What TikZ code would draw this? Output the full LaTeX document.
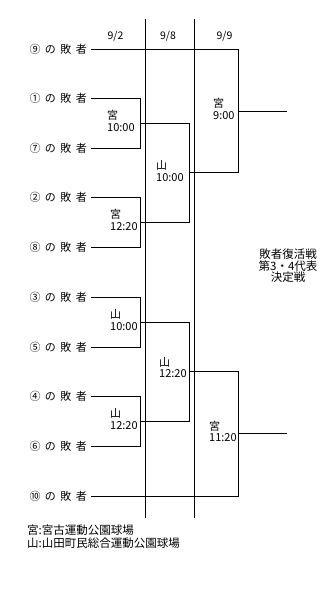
\documentclass[tikz,border=0pt]{standalone}
\usepackage{fontspec}
\setmainfont{Noto Sans CJK JP}
\newfontfamily\lblfont[LetterSpace=40]{Noto Sans CJK JP}
\begin{document}
\begin{tikzpicture}[x=1pt,y=-1pt,
  line/.style={line width=0.9pt,black},
  player/.style={anchor=east,inner sep=0pt,font=\lblfont\fontsize{11}{12}\selectfont},
  venue/.style={anchor=north west,inner sep=0pt,align=left,font=\fontsize{11}{11.5}\selectfont},
  datelbl/.style={inner sep=0pt,font=\fontsize{10.5}{12}\selectfont}]
\useasboundingbox (0,0) rectangle (332,595);
% dates
\node[datelbl] (d1) at (115.5,36) {9/2};
\node[datelbl] (d2) at (168,36) {9/8};
\node[datelbl] (d3) at (224.5,36) {9/9};
% separators
\coordinate (s1t) at (145.5,19); \coordinate (s1b) at (145.5,518);
\coordinate (s2t) at (194.5,19); \coordinate (s2b) at (194.5,518);
\draw[line] (s1t) -- (s1b);
\draw[line] (s2t) -- (s2b);
% players
\foreach \n/\t/\y in {p9/⑨/49.5,p1/①/98.5,p7/⑦/148,p2/②/197,p8/⑧/247,p3/③/297,p5/⑤/347,p4/④/396,p6/⑥/446,p10/⑩/496}{
  \node[player] (\n) at (87,\y) {\t の敗者};
  \coordinate (\n s) at (91,\y);
}
% round 1 junctions
\coordinate (a1) at (140,98.5);  \coordinate (a2) at (140,148);
\coordinate (b1) at (140,197);   \coordinate (b2) at (140,247);
\coordinate (c1) at (140,297);   \coordinate (c2) at (140,347);
\coordinate (e1) at (140,396);   \coordinate (e2) at (140,446);
\coordinate (am) at (140,123.25); \coordinate (bm) at (140,222);
\coordinate (cm) at (140,322);    \coordinate (em) at (140,421);
\draw[line] (p1s) -- (a1) -- (a2) -- (p7s);
\draw[line] (p2s) -- (b1) -- (b2) -- (p8s);
\draw[line] (p3s) -- (c1) -- (c2) -- (p5s);
\draw[line] (p4s) -- (e1) -- (e2) -- (p6s);
% round 2
\coordinate (f1) at (189.5,123.25); \coordinate (f2) at (189.5,222);
\coordinate (g1) at (189.5,322);    \coordinate (g2) at (189.5,421);
\coordinate (fm) at (189.5,172.5);  \coordinate (gm) at (189.5,371.5);
\draw[line] (am) -- (f1) -- (f2) -- (bm);
\draw[line] (cm) -- (g1) -- (g2) -- (em);
% round 3
\coordinate (h1) at (238.5,49.5);  \coordinate (h2) at (238.5,172.5);
\coordinate (k1) at (238.5,371.5); \coordinate (k2) at (238.5,496);
\coordinate (hm) at (238.5,111);   \coordinate (km) at (238.5,433.75);
\coordinate (ho) at (287,111);     \coordinate (ko) at (287,433.75);
\draw[line] (p9s) -- (h1) -- (h2) -- (fm);
\draw[line] (p10s) -- (k2) -- (k1) -- (gm);
\draw[line] (hm) -- (ho);
\draw[line] (km) -- (ko);
% venue labels
\node[venue] (v1) at (107,110.5) {宮\\10:00};
\node[venue] (v2) at (110,209.5) {宮\\12:20};
\node[venue] (v3) at (110,309.5) {山\\10:00};
\node[venue] (v4) at (110,408.5) {山\\12:20};
\node[venue] (v5) at (156,160.5) {山\\10:00};
\node[venue] (v6) at (159,357) {山\\12:20};
\node[venue] (v7) at (213,98.5) {宮\\9:00};
\node[venue] (v8) at (209,421) {宮\\11:20};
% title
\node[inner sep=0pt,align=center,font=\fontsize{11.5}{11.5}\selectfont] (ttl) at (288,266) {敗者復活戦\\第3・4代表\\決定戦};
% legend
\node[anchor=north west,inner sep=0pt,align=left,font=\fontsize{11.5}{12.5}\selectfont] (leg) at (27,525) {宮:宮古運動公園球場\\山:山田町民総合運動公園球場};
\end{tikzpicture}
\end{document}
